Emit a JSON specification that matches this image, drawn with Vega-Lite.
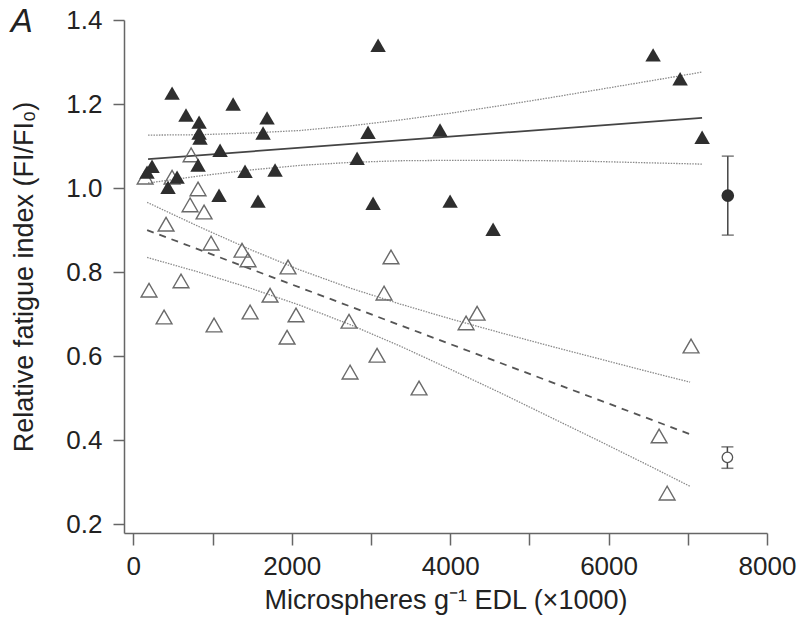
{
  "$schema": "https://vega.github.io/schema/vega-lite/v6.json",
  "width": 643,
  "height": 513,
  "autosize": "none",
  "padding": {"left": 124, "top": 20, "right": 33, "bottom": 93},
  "background": "white",
  "title": {"text": "A", "anchor": "start", "frame": "bounds", "fontStyle": "italic", "fontWeight": "normal", "fontSize": 33, "font": "Liberation Sans", "color": "#222", "baseline": "alphabetic", "offset": 0, "dy": 58},
  "config": {
    "view": {"stroke": null},
    "axis": {"labelFont": "Liberation Sans", "titleFont": "Liberation Sans", "labelFontSize": 26, "titleFontSize": 27, "titleFontWeight": "normal", "labelColor": "#222", "titleColor": "#222", "domainColor": "#666", "tickColor": "#666", "domainWidth": 1.5, "tickWidth": 1.5, "grid": false}
  },
  "datasets": {
    "points": [
      {"x": 236, "y": 1.052, "group": "filled"},
      {"x": 173, "y": 1.038, "group": "filled"},
      {"x": 489, "y": 1.226, "group": "filled"},
      {"x": 665, "y": 1.174, "group": "filled"},
      {"x": 830, "y": 1.157, "group": "filled"},
      {"x": 830, "y": 1.131, "group": "filled"},
      {"x": 842, "y": 1.119, "group": "filled"},
      {"x": 817, "y": 1.055, "group": "filled"},
      {"x": 552, "y": 1.026, "group": "filled"},
      {"x": 438, "y": 1.002, "group": "filled"},
      {"x": 1095, "y": 1.09, "group": "filled"},
      {"x": 1082, "y": 0.983, "group": "filled"},
      {"x": 1260, "y": 1.2, "group": "filled"},
      {"x": 1410, "y": 1.04, "group": "filled"},
      {"x": 1574, "y": 0.969, "group": "filled"},
      {"x": 1688, "y": 1.167, "group": "filled"},
      {"x": 1638, "y": 1.131, "group": "filled"},
      {"x": 1789, "y": 1.043, "group": "filled"},
      {"x": 3090, "y": 1.34, "group": "filled"},
      {"x": 2963, "y": 1.133, "group": "filled"},
      {"x": 3872, "y": 1.138, "group": "filled"},
      {"x": 2825, "y": 1.071, "group": "filled"},
      {"x": 3027, "y": 0.964, "group": "filled"},
      {"x": 3999, "y": 0.969, "group": "filled"},
      {"x": 4542, "y": 0.902, "group": "filled"},
      {"x": 6562, "y": 1.317, "group": "filled"},
      {"x": 6903, "y": 1.26, "group": "filled"},
      {"x": 7181, "y": 1.121, "group": "filled"},
      {"x": 149, "y": 1.026, "group": "open"},
      {"x": 489, "y": 1.026, "group": "open"},
      {"x": 729, "y": 1.079, "group": "open"},
      {"x": 817, "y": 0.998, "group": "open"},
      {"x": 716, "y": 0.96, "group": "open"},
      {"x": 893, "y": 0.943, "group": "open"},
      {"x": 413, "y": 0.914, "group": "open"},
      {"x": 981, "y": 0.869, "group": "open"},
      {"x": 1372, "y": 0.852, "group": "open"},
      {"x": 1448, "y": 0.829, "group": "open"},
      {"x": 1953, "y": 0.812, "group": "open"},
      {"x": 198, "y": 0.757, "group": "open"},
      {"x": 602, "y": 0.779, "group": "open"},
      {"x": 388, "y": 0.693, "group": "open"},
      {"x": 1019, "y": 0.674, "group": "open"},
      {"x": 1474, "y": 0.705, "group": "open"},
      {"x": 1726, "y": 0.745, "group": "open"},
      {"x": 2054, "y": 0.698, "group": "open"},
      {"x": 1941, "y": 0.645, "group": "open"},
      {"x": 2723, "y": 0.683, "group": "open"},
      {"x": 2736, "y": 0.562, "group": "open"},
      {"x": 3077, "y": 0.602, "group": "open"},
      {"x": 3165, "y": 0.75, "group": "open"},
      {"x": 3607, "y": 0.524, "group": "open"},
      {"x": 4340, "y": 0.702, "group": "open"},
      {"x": 4201, "y": 0.679, "group": "open"},
      {"x": 7041, "y": 0.624, "group": "open"},
      {"x": 6638, "y": 0.41, "group": "open"},
      {"x": 6739, "y": 0.274, "group": "open"},
      {"x": 3253, "y": 0.836, "group": "open"}
    ],
    "fits": [
      {"x": 186, "y": 1.069, "curve": "filled-fit"},
      {"x": 7180, "y": 1.167, "curve": "filled-fit"},
      {"x": 186, "y": 1.126, "curve": "filled-upper"},
      {"x": 842, "y": 1.127, "curve": "filled-upper"},
      {"x": 1473, "y": 1.131, "curve": "filled-upper"},
      {"x": 2105, "y": 1.137, "curve": "filled-upper"},
      {"x": 2736, "y": 1.148, "curve": "filled-upper"},
      {"x": 3367, "y": 1.162, "curve": "filled-upper"},
      {"x": 3999, "y": 1.178, "curve": "filled-upper"},
      {"x": 4630, "y": 1.196, "curve": "filled-upper"},
      {"x": 5261, "y": 1.215, "curve": "filled-upper"},
      {"x": 5893, "y": 1.235, "curve": "filled-upper"},
      {"x": 6524, "y": 1.255, "curve": "filled-upper"},
      {"x": 7180, "y": 1.276, "curve": "filled-upper"},
      {"x": 186, "y": 1.012, "curve": "filled-lower"},
      {"x": 842, "y": 1.029, "curve": "filled-lower"},
      {"x": 1473, "y": 1.043, "curve": "filled-lower"},
      {"x": 2105, "y": 1.054, "curve": "filled-lower"},
      {"x": 2736, "y": 1.061, "curve": "filled-lower"},
      {"x": 3367, "y": 1.065, "curve": "filled-lower"},
      {"x": 3999, "y": 1.066, "curve": "filled-lower"},
      {"x": 4630, "y": 1.066, "curve": "filled-lower"},
      {"x": 5261, "y": 1.065, "curve": "filled-lower"},
      {"x": 5893, "y": 1.063, "curve": "filled-lower"},
      {"x": 6524, "y": 1.06, "curve": "filled-lower"},
      {"x": 7180, "y": 1.057, "curve": "filled-lower"},
      {"x": 174, "y": 0.9, "curve": "open-fit"},
      {"x": 7029, "y": 0.414, "curve": "open-fit"},
      {"x": 174, "y": 0.966, "curve": "open-upper"},
      {"x": 842, "y": 0.907, "curve": "open-upper"},
      {"x": 1473, "y": 0.854, "curve": "open-upper"},
      {"x": 2105, "y": 0.805, "curve": "open-upper"},
      {"x": 2736, "y": 0.762, "curve": "open-upper"},
      {"x": 3367, "y": 0.724, "curve": "open-upper"},
      {"x": 3999, "y": 0.689, "curve": "open-upper"},
      {"x": 4630, "y": 0.656, "curve": "open-upper"},
      {"x": 5261, "y": 0.624, "curve": "open-upper"},
      {"x": 5893, "y": 0.593, "curve": "open-upper"},
      {"x": 6524, "y": 0.562, "curve": "open-upper"},
      {"x": 7029, "y": 0.538, "curve": "open-upper"},
      {"x": 174, "y": 0.835, "curve": "open-lower"},
      {"x": 842, "y": 0.799, "curve": "open-lower"},
      {"x": 1473, "y": 0.762, "curve": "open-lower"},
      {"x": 2105, "y": 0.721, "curve": "open-lower"},
      {"x": 2736, "y": 0.675, "curve": "open-lower"},
      {"x": 3367, "y": 0.624, "curve": "open-lower"},
      {"x": 3999, "y": 0.569, "curve": "open-lower"},
      {"x": 4630, "y": 0.513, "curve": "open-lower"},
      {"x": 5261, "y": 0.455, "curve": "open-lower"},
      {"x": 5893, "y": 0.397, "curve": "open-lower"},
      {"x": 6524, "y": 0.338, "curve": "open-lower"},
      {"x": 7029, "y": 0.29, "curve": "open-lower"}
    ],
    "means": [
      {"x": 7505, "y": 0.982, "lo": 0.888, "hi": 1.076, "group": "filled"},
      {"x": 7500, "y": 0.359, "lo": 0.333, "hi": 0.384, "group": "open"}
    ]
  },
  "encoding": {
    "x": {"field": "x", "type": "quantitative", "scale": {"domain": [-118, 8000], "nice": false, "zero": false},
      "axis": {"title": "Microspheres g⁻¹ EDL (×1000)", "values": [0, 1000, 2000, 3000, 4000, 5000, 6000, 7000, 8000], "format": "d", "labelExpr": "datum.value % 2000 === 0 ? datum.label : ''", "tickSize": 12, "labelPadding": 8, "titlePadding": 8, "labelFlush": false, "labelOverlap": false}},
    "y": {"field": "y", "type": "quantitative", "scale": {"domain": [0.179, 1.4], "nice": false, "zero": false},
      "axis": {"title": "Relative fatigue index (FI/FI₀)", "values": [0.2, 0.4, 0.6, 0.8, 1.0, 1.2, 1.4], "format": ".1f", "tickSize": 11, "labelPadding": 11, "titlePadding": 27, "labelFlush": false, "labelOverlap": false}}
  },
  "layer": [
    {
      "data": {"name": "fits"},
      "transform": [{"filter": "indexof(datum.curve, 'upper') >= 0 || indexof(datum.curve, 'lower') >= 0"}],
      "mark": {"type": "line", "color": "#8a8a8a", "strokeWidth": 1.3, "strokeDash": [1.5, 1.2]},
      "encoding": {"detail": {"field": "curve"}}
    },
    {
      "data": {"name": "fits"},
      "transform": [{"filter": "datum.curve === 'open-fit'"}],
      "mark": {"type": "line", "color": "#555", "strokeWidth": 1.8, "strokeDash": [7, 6]},
      "encoding": {}
    },
    {
      "data": {"name": "fits"},
      "transform": [{"filter": "datum.curve === 'filled-fit'"}],
      "mark": {"type": "line", "color": "#444", "strokeWidth": 1.8},
      "encoding": {}
    },
    {
      "data": {"name": "points"},
      "transform": [{"filter": "datum.group === 'open'"}],
      "mark": {"type": "point", "shape": "triangle-up", "filled": false, "size": 250, "stroke": "#6a6a6a", "strokeWidth": 1.4, "opacity": 1}
    },
    {
      "data": {"name": "points"},
      "transform": [{"filter": "datum.group === 'filled'"}],
      "mark": {"type": "point", "shape": "triangle-up", "filled": true, "size": 240, "color": "#2e2e2e", "opacity": 1}
    },
    {
      "data": {"name": "means"},
      "mark": {"type": "rule", "color": "#444", "strokeWidth": 1.5},
      "encoding": {"y": {"field": "lo", "type": "quantitative"}, "y2": {"field": "hi"}}
    },
    {
      "data": {"name": "means"},
      "mark": {"type": "tick", "orient": "horizontal", "size": 12, "thickness": 1.5, "color": "#444"},
      "encoding": {"y": {"field": "lo", "type": "quantitative"}}
    },
    {
      "data": {"name": "means"},
      "mark": {"type": "tick", "orient": "horizontal", "size": 12, "thickness": 1.5, "color": "#444"},
      "encoding": {"y": {"field": "hi", "type": "quantitative"}}
    },
    {
      "data": {"name": "means"},
      "transform": [{"filter": "datum.group === 'filled'"}],
      "mark": {"type": "point", "shape": "circle", "filled": true, "size": 160, "color": "#2e2e2e", "opacity": 1}
    },
    {
      "data": {"name": "means"},
      "transform": [{"filter": "datum.group === 'open'"}],
      "mark": {"type": "point", "shape": "circle", "filled": true, "size": 110, "fill": "white", "stroke": "#555", "strokeWidth": 1.3, "opacity": 1}
    }
  ]
}
